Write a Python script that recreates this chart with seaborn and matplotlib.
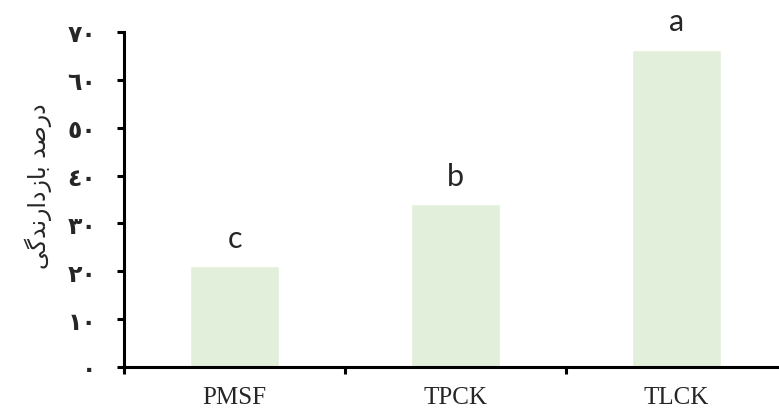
import matplotlib
matplotlib.use("Agg")
import numpy as np
import pandas as pd
import seaborn as sns
from matplotlib import pyplot as plt

# data
inhibitors = ['PMSF', 'TPCK', 'TLCK']
inhibition = [21.1, 34.0, 66.3]
groups = ['c', 'b', 'a']
y_ticks = [0, 10, 20, 30, 40, 50, 60, 70]
y_tick_labels = ['٠', '١٠', '٢٠', '٣٠', '٤٠', '٥٠', '٦٠', '٧٠']
# "درصد بازدارندگی" in visual order with contextual forms (matplotlib does no arabic shaping)
y_title = 'ﯽﮔﺪﻧﺭﺍﺩﺯﺎﺑ ﺪﺻﺭﺩ'

sns.set_style('ticks')
plt.rcParams['font.family'] = ['DejaVu Sans']

bar_color = '#E2EFDA'
line_w = 2.2

df = pd.DataFrame({'inhibitor': inhibitors, 'value': inhibition})

fig = plt.figure(figsize=(7.79, 4.10), dpi=100)
ax = fig.add_axes([124 / 779, 42 / 410, 663 / 779, 335 / 410])
sns.barplot(data=df, x='inhibitor', y='value', color=bar_color, width=0.4,
            saturation=1, ax=ax)

ax.set_xlim(-0.5, len(inhibitors) - 0.5)
ax.set_ylim(0, 70)
sns.despine(ax=ax, top=True, right=True)
for side in ['left', 'bottom']:
    ax.spines[side].set_linewidth(line_w)
    ax.spines[side].set_color('black')
    ax.spines[side].set_clip_on(False)

# y axis with arabic-indic digits
ax.set_yticks(y_ticks)
ax.set_yticklabels(y_tick_labels, fontsize=17, fontweight='semibold')
ax.tick_params(axis='y', length=5, width=line_w, pad=15, color='black')

# x ticks between categories, labels at centres
ax.set_xticks(np.arange(len(inhibitors) + 1) - 0.5)
ax.set_xticklabels([])
ax.set_xticks(np.arange(len(inhibitors)), minor=True)
ax.set_xticklabels(inhibitors, minor=True, family='Liberation Serif', fontsize=18)
ax.tick_params(axis='x', which='major', length=5, width=line_w, color='black')
ax.tick_params(axis='x', which='minor', length=0, pad=14)

ax.set_xlabel('')
ax.set_ylabel(y_title, fontsize=17)
ax.yaxis.set_label_coords(52 / 779, 1 - 186 / 410, transform=fig.transFigure)

# significance letters above bars
for i, (v, g) in enumerate(zip(inhibition, groups)):
    ax.annotate(g, xy=(i, v), xytext=(0, 14), textcoords='offset points',
                ha='center', va='baseline', fontsize=22, family='Lato',
                annotation_clip=False)

fig.savefig('out.png', dpi=100)
